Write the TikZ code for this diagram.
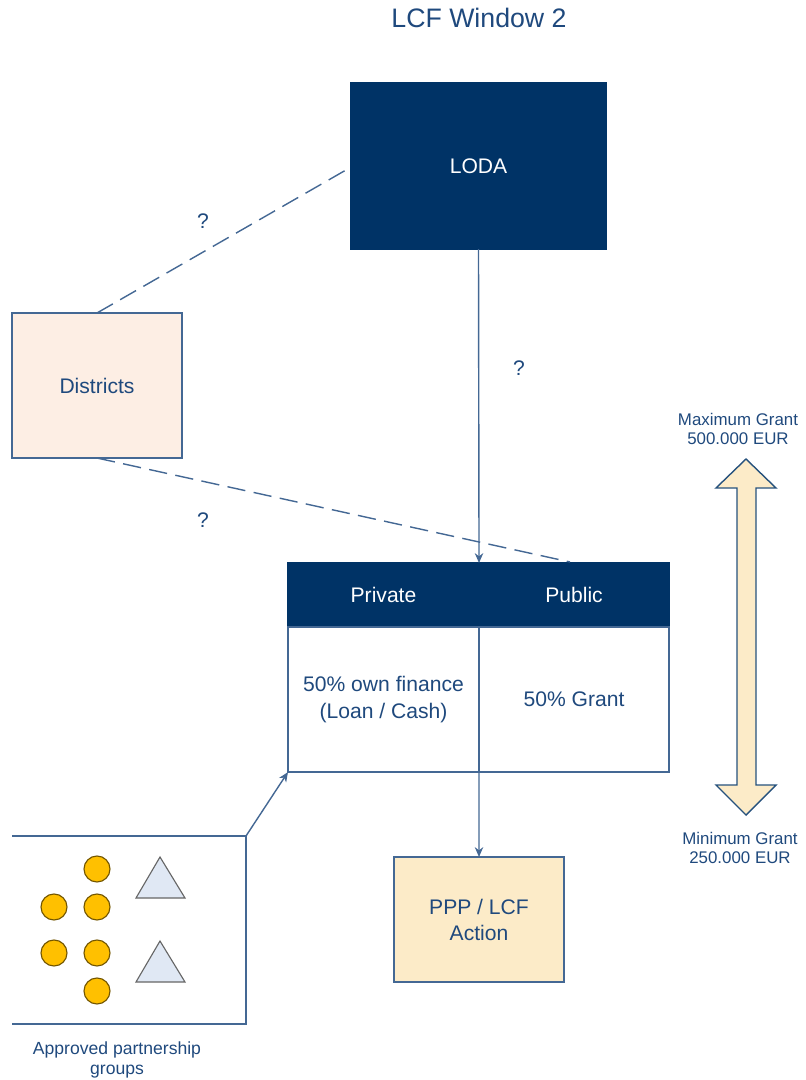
\documentclass[tikz,border=0pt]{standalone}
\usepackage{fontspec}
\setmainfont{Liberation Sans}
\usetikzlibrary{positioning,arrows.meta}

\definecolor{navy}{RGB}{0,51,102}
\definecolor{txtblue}{RGB}{31,73,125}
\definecolor{lineblue}{RGB}{68,104,148}
\definecolor{peach}{RGB}{253,238,228}
\definecolor{cream}{RGB}{252,235,200}
\definecolor{gold}{RGB}{255,192,0}
\definecolor{paleblue}{RGB}{224,232,244}

\begin{document}
\begin{tikzpicture}[x=0.025cm,y=-0.025cm,draw=lineblue,line width=1pt,
    >={Stealth[length=7pt,width=6pt]}]
    \tikzstyle{box}=[rectangle,draw=lineblue,line width=1pt,outer sep=0pt,inner sep=0pt,
        align=center,text=txtblue,font=\fontsize{15}{18.5}\selectfont]
    \tikzstyle{dark box}=[box,fill=navy,draw=navy,text=white]
    \tikzstyle{qmark}=[text=txtblue,font=\fontsize{15}{18}\selectfont]
    \tikzstyle{small label}=[text=txtblue,align=center,font=\fontsize{12}{13.5}\selectfont]
    \tikzstyle{member}=[circle,fill=gold,draw=black!55!gold,line width=0.8pt,minimum size=0.65cm,inner sep=0pt]
    \tikzstyle{dash line}=[dash pattern=on 13pt off 6pt]

    \useasboundingbox (0,0) rectangle (806,1080);

    % Title
    \node[text=txtblue,font=\fontsize{19}{22}\selectfont] (title) at (479,18) {LCF Window 2};

    % Draw the organisations
    \node[dark box,minimum width=6.375cm,minimum height=4.15cm] (LODA) at (478.5,166) {LODA};
    \node[box,fill=peach,minimum width=4.25cm,minimum height=3.625cm] (districts) at (97,385.5) {Districts};

    % Draw the finance table
    \node[dark box,minimum width=4.775cm,minimum height=1.6cm] (private) at (383.5,595) {Private};
    \node[dark box,minimum width=4.75cm,minimum height=1.6cm,right=0pt of private] (public) {Public};
    \node[box,fill=white,minimum width=4.775cm,minimum height=3.625cm,below=0pt of private] (own)
        {50\% own finance\\(Loan / Cash)};
    \node[box,fill=white,minimum width=4.75cm,minimum height=3.625cm,below=0pt of public] (grant) {50\% Grant};

    % Draw the action box
    \node[box,fill=cream,minimum width=4.25cm,minimum height=3.125cm] (action) at (479,919.5) {PPP / LCF\\Action};

    % Draw the partnership groups (frame open on the left)
    \coordinate (pg-tl) at (12,836);
    \coordinate (pg-tr) at (246,836);
    \coordinate (pg-br) at (246,1024);
    \coordinate (pg-bl) at (12,1024);
    \draw (pg-tl) -- (pg-tr) -- (pg-br) -- (pg-bl);
    \node[small label,font=\fontsize{12.5}{14.5}\selectfont] (groups) at (117,1060) {Approved partnership\\groups};

    \foreach \name / \x / \y in {1/97/869,2/54/907,3/97/907,4/54/953,5/97/953,6/97/991}
        \node[member] (m-\name) at (\x,\y) {};
    \foreach \y in {857,941}
        \draw[fill=paleblue,draw=black!60,line width=0.8pt] (160,\y) -- (185,\y+41) -- (136,\y+41) -- cycle;

    % Connect the boxes
    \draw[->] (LODA.south) -- (private.north east);
    \draw[->] (own.south east) -- (action.north);
    \draw[->] (pg-tr) -- (own.south west);
    \draw[dash line] (districts.north) -- ([shift={(-5,4)}]LODA.west);
    \draw[dash line] (districts.south) -- ([shift={(-4,-1)}]public.north);

    \node[qmark] (q-1) at (203,221) {?};
    \node[qmark] (q-2) at (203,520) {?};
    \node[qmark] (q-3) at (519,368) {?};

    % Grant range
    \draw[fill=cream,draw=navy!85,line width=1pt] (746,459) -- (776,488) -- (756,488) -- (756,785)
        -- (776,785) -- (746,815) -- (716,785) -- (737,785) -- (737,488) -- (716,488) -- cycle;
    \node[small label] (max) at (738,429) {Maximum Grant\\500.000 EUR};
    \node[small label] (min) at (740,848) {Minimum Grant\\250.000 EUR};
\end{tikzpicture}
\end{document}
